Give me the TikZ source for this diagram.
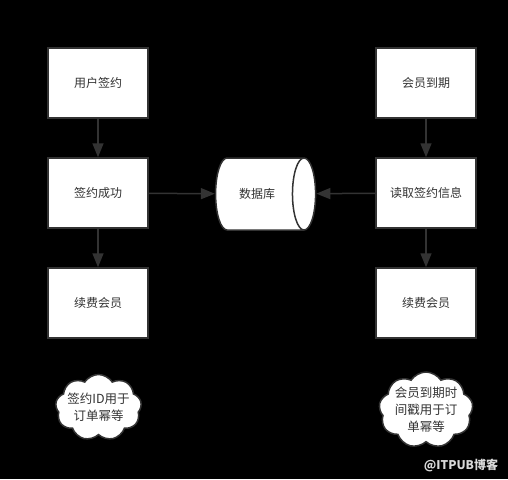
\documentclass[tikz,border=0pt]{standalone}
\usepackage{fontspec}
\setmainfont{Noto Sans CJK SC}
\usetikzlibrary{shapes.geometric,shapes.symbols,arrows.meta}
\definecolor{ink}{HTML}{333333}
\tikzset{
  box/.style={draw=ink,line width=1.5pt,fill=white,text=ink,minimum width=100pt,minimum height=70pt,font=\fontsize{12}{14}\selectfont},
  db/.style={cylinder,draw=ink,line width=1.5pt,fill=white,text=ink,aspect=1.3,minimum width=72pt,minimum height=100pt,font=\fontsize{12}{14}\selectfont},
  note/.style={cloud,cloud puffs=9,cloud puff arc=115,cloud ignores aspect,draw=ink,line width=1.5pt,fill=white,inner sep=0pt},
  notetext/.style={text=ink,align=center,inner sep=0pt,font=\fontsize{12.5}{17}\selectfont},
  flow/.style={draw=ink,line width=1.5pt,-{Triangle[width=11pt,length=14pt]}}
}
\begin{document}
\begin{tikzpicture}[x=1pt,y=-1pt]
  % background
  \fill [black] (0,0) rectangle (508,479);
  \useasboundingbox (0,0) rectangle (508,479);
  % left column
  \node [box] (sign) at (98,83) {用户签约};
  \node [box] (ok) at (98,193) {签约成功};
  \node [box] (renewL) at (98,303) {续费会员};
  % right column
  \node [box] (expire) at (426,83) {会员到期};
  \node [box] (read) at (426,193) {读取签约信息};
  \node [box] (renewR) at (426,303) {续费会员};
  % database
  \node [db] (store) at (257,194) {数据库};
  % notes
  \node [note,minimum width=86pt,minimum height=66pt] (noteL) at (98.5,407.5) {};
  \node [notetext] (textL) at (noteL) {签约ID用于\\订单幂等};
  \node [note,minimum width=94pt,minimum height=76pt] (noteR) at (426,410) {};
  \node [notetext] (textR) at (noteR) {会员到期时\\间戳用于订\\单幂等};
  % arrows
  \draw [flow] (sign) -- (ok);
  \draw [flow] (ok) -- (renewL);
  \draw [flow] (expire) -- (read);
  \draw [flow] (read) -- (renewR);
  \draw [flow] (ok) -- (store);
  \draw [flow] (read) -- (store);
  % watermark
  \node [text=white!85!black,font=\bfseries\fontsize{12}{14}\selectfont] (mark) at (461,465) {@ITPUB博客};
\end{tikzpicture}
\end{document}
